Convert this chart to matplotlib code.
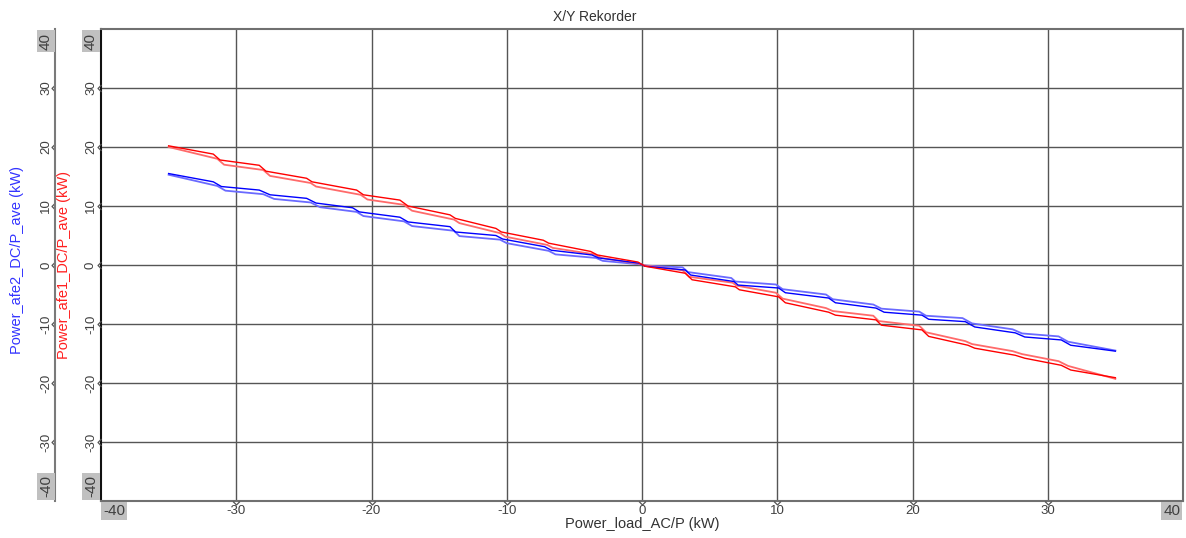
import matplotlib
matplotlib.use("Agg")
import matplotlib.pyplot as plt
from matplotlib.path import Path
from matplotlib.lines import Line2D
import matplotlib.transforms as mtransforms

plt.rcParams['font.family'] = ['Liberation Sans', 'DejaVu Sans']

# ---------------- data ----------------
title = "X/Y Rekorder"
xlabel = "Power_load_AC/P (kW)"
ylabel_red = "Power_afe1_DC/P_ave (kW)"
ylabel_blue = "Power_afe2_DC/P_ave (kW)"
ticks = [-40, -30, -20, -10, 0, 10, 20, 30, 40]

# afe1 (red), branch 1
red1_x = [-35, -31.7, -31.2, -28.3, -27.8, -24.8, -24.4, -21.1, -20.6, -17.9, -17.3,
          -14.2, -13.8, -10.8, -10.4, -7.3, -6.9, -3.8, -3.3, -0.3, 0.2,
          3.2, 3.7, 6.9, 7.2, 10.1, 10.6, 13.8, 14.3, 17.3, 17.7, 20.7, 21.2,
          24.1, 24.6, 27.6, 28.3, 31.0, 31.7, 35]
red1_y = [20.2, 18.8, 17.8, 16.9, 15.9, 14.7, 14.1, 12.7, 11.9, 11.0, 10.0,
          8.5, 7.9, 6.2, 5.6, 4.2, 3.7, 2.3, 1.7, 0.5, -0.2,
          -1.4, -2.5, -3.7, -4.2, -5.4, -6.4, -8.0, -8.5, -9.3, -10.2, -11.0, -12.1,
          -13.6, -14.1, -15.3, -15.8, -17.0, -17.8, -19.1]
# afe1 (red), branch 2
red2_x = [-35, -31.4, -30.9, -28.0, -27.5, -24.5, -24.1, -20.8, -20.3, -17.6, -17.0,
          -13.9, -13.5, -10.5, -10.1, -7.0, -6.6, -3.5, -3.0, -0.2, 0.3,
          3.0, 3.5, 6.7, 7.0, 9.9, 10.4, 13.6, 14.1, 17.1, 17.5, 20.5, 21.0,
          23.9, 24.4, 27.4, 28.1, 30.8, 31.5, 35]
red2_y = [20.0, 18.0, 17.0, 16.1, 15.1, 13.9, 13.3, 11.9, 11.1, 10.2, 9.2,
          7.7, 7.1, 5.4, 4.8, 3.4, 2.9, 1.8, 1.2, 0.2, -0.1,
          -0.9, -2.0, -3.0, -3.5, -4.7, -5.7, -7.3, -7.8, -8.6, -9.5, -10.3, -11.4,
          -12.9, -13.4, -14.6, -15.1, -16.3, -17.1, -19.3]
# afe2 (blue), branch 1
blue1_x = [-35, -31.7, -31.1, -28.3, -27.5, -24.8, -24.1, -21.4, -20.9, -17.9, -17.3,
           -14.2, -13.8, -10.8, -10.3, -7.2, -6.7, -3.7, -3.2, -0.2, 0.2,
           3.2, 3.6, 6.8, 7.1, 10.1, 10.6, 13.8, 14.3, 17.3, 17.9, 20.7, 21.2,
           23.9, 24.6, 27.6, 28.3, 31.0, 31.7, 35]
blue1_y = [15.5, 14.1, 13.3, 12.7, 11.9, 11.3, 10.5, 9.7, 9.0, 8.1, 7.3,
           6.5, 5.6, 5.0, 4.4, 3.1, 2.5, 1.7, 1.2, 0.3, -0.2,
           -0.85, -1.7, -2.8, -3.4, -3.9, -4.7, -5.6, -6.4, -7.3, -8.0, -8.5, -9.2,
           -9.6, -10.5, -11.5, -12.2, -12.7, -13.6, -14.6]
# afe2 (blue), branch 2
blue2_x = [-35, -31.4, -30.8, -28.0, -27.2, -24.5, -23.8, -21.1, -20.6, -17.6, -17.0,
           -13.9, -13.5, -10.5, -10.0, -6.9, -6.4, -3.4, -2.9, -0.1, 0.3,
           3.0, 3.4, 6.6, 6.9, 9.9, 10.4, 13.6, 14.1, 17.1, 17.7, 20.5, 21.0,
           23.7, 24.4, 27.4, 28.1, 30.8, 31.5, 35]
blue2_y = [15.3, 13.4, 12.6, 12.0, 11.2, 10.6, 9.8, 9.0, 8.3, 7.4, 6.6,
           5.8, 4.9, 4.3, 3.7, 2.4, 1.8, 1.2, 0.7, 0.1, -0.1,
           -0.4, -1.2, -2.2, -2.8, -3.3, -4.1, -5.0, -5.8, -6.7, -7.4, -7.9, -8.6,
           -9.0, -9.9, -10.9, -11.6, -12.1, -13.0, -14.5]

# ---------------- figure ----------------
W, H = 1186, 538
fig = plt.figure(figsize=(W / 100, H / 100), dpi=100)
fig.patch.set_facecolor('white')
L, R, T, B = 101, 1183, 29, 501
ax = fig.add_axes([L / W, 1 - B / H, (R - L) / W, (B - T) / H])
ax.set_xlim(-40, 40)
ax.set_ylim(-40, 40)
ax.set_xticks([])
ax.set_yticks([])
ax.spines['left'].set_color('#111111')
ax.spines['left'].set_linewidth(1.5)
for s in ['top', 'bottom', 'right']:
    ax.spines[s].set_color('#707070')
    ax.spines[s].set_linewidth(1.5)

grid_c = '#555555'
for v in ticks[1:-1]:
    ax.axvline(v, color=grid_c, lw=1.0, zorder=1)
    ax.axhline(v, color=grid_c, lw=1.0, zorder=1)

# curves
ax.plot(blue2_x, blue2_y, color='#6a6aff', lw=1.3, zorder=3)
ax.plot(blue1_x, blue1_y, color='#0000ff', lw=1.0, zorder=4)
ax.plot(red2_x, red2_y, color='#ff6a6a', lw=1.3, zorder=3)
ax.plot(red1_x, red1_y, color='#ff0000', lw=1.0, zorder=4)

# ---------------- axes decorations ----------------
tick_c = '#404040'
box = dict(facecolor='#c0c0c0', edgecolor='none', pad=1.5)
chev_left = Path([(0, 1), (-1, 0), (0, -1)], [Path.MOVETO, Path.LINETO, Path.LINETO])
chev_down = Path([(-1, 0), (0, -1), (1, 0)], [Path.MOVETO, Path.LINETO, Path.LINETO])

# bottom axis
tb = mtransforms.blended_transform_factory(ax.transData, fig.transFigure)
ylab_b = 1 - 511 / H
for v in ticks:
    if v == -40:
        ax.text(v + 0.15, ylab_b, str(v), transform=tb, ha='left', va='center',
                fontsize=11, color=tick_c, bbox=box)
    elif v == 40:
        ax.text(v - 0.2, ylab_b, str(v), transform=tb, ha='right', va='center',
                fontsize=11, color=tick_c, bbox=box)
    else:
        ax.text(v, ylab_b, str(v), transform=tb, ha='center', va='center',
                fontsize=9.5, color=tick_c)
ax.plot(ticks[1:-1], [-40] * (len(ticks) - 2), ls='none', marker=chev_down, ms=5,
        mfc='none', mec='#555555', mew=0.9, clip_on=False, zorder=5)

# left axes (inner at x=101, outer at x=55)
tl = mtransforms.blended_transform_factory(fig.transFigure, ax.transData)
for spine_px, lab_px in [(L, 91), (55, 46)]:
    for v in ticks:
        if v == 40:
            fig.text(lab_px / W, v - 0.6, str(v), transform=tl, rotation=90,
                     ha='center', va='top', fontsize=11, color=tick_c, bbox=box)
        elif v == -40:
            fig.text(lab_px / W, v + 0.6, str(v), transform=tl, rotation=90,
                     ha='center', va='bottom', fontsize=11, color=tick_c, bbox=box)
        else:
            fig.text(lab_px / W, v, str(v), transform=tl, rotation=90,
                     ha='center', va='center', fontsize=9.5, color=tick_c)
    fig.add_artist(Line2D([spine_px / W] * (len(ticks) - 2), ticks[1:-1], transform=tl,
                          ls='none', marker=chev_left, ms=5, mfc='none',
                          mec='#555555', mew=0.9))
fig.add_artist(Line2D([55 / W, 55 / W], [-40, 40], transform=tl, color='#7a7a7a', lw=1.5))

# labels
fig.text(17.5 / W, 1 - 260 / H, ylabel_blue, rotation=90, ha='center', va='center',
         fontsize=10.5, color='#3333ff')
fig.text(64 / W, 1 - 265 / H, ylabel_red, rotation=90, ha='center', va='center',
         fontsize=10.5, color='#ff2020')
fig.text(642 / W, 1 - 524 / H, xlabel, ha='center', va='center', fontsize=10.5,
         color='#333333')
fig.text(595 / W, 1 - 17 / H, title, ha='center', va='center', fontsize=10,
         color='#333333')

fig.savefig('out.png', dpi=100, facecolor='white')
